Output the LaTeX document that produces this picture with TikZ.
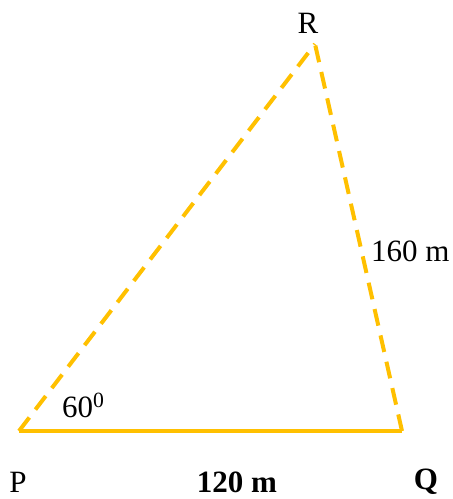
\documentclass[tikz,border=0pt]{standalone}
\usepackage{fontspec}
\setmainfont{Liberation Serif}
\definecolor{sideyellow}{HTML}{FFC000}
\begin{document}
\begin{tikzpicture}[x=1pt, y=-1pt, font=\fontsize{31}{37}\selectfont]
    \useasboundingbox (0,0) rectangle (453,499);
    \tikzset{side/.style={line width=4pt, sideyellow}, dashside/.style={side, dash pattern=on 17pt off 10pt}}
    \coordinate (p) at (19,431);
    \coordinate (q) at (402,431);
    \coordinate (r) at (315,44);
    \draw[side] (p) -- (q);
    \draw[dashside] (p) -- (r);
    \draw[dashside] (q) -- (r);
    \node (rlab) at (308,23) {R};
    \node (plab) at (18,482) {P};
    \node (qlab) at (426,482) {\textbf{Q}};
    \node (base) at (237,482) {\textbf{120 m}};
    \node[anchor=west, inner sep=0pt] (side) at (371,251) {160 m};
    \node[anchor=base west, inner sep=0pt] (angle) at (62,417) {60\textsuperscript{0}};
\end{tikzpicture}
\end{document}
